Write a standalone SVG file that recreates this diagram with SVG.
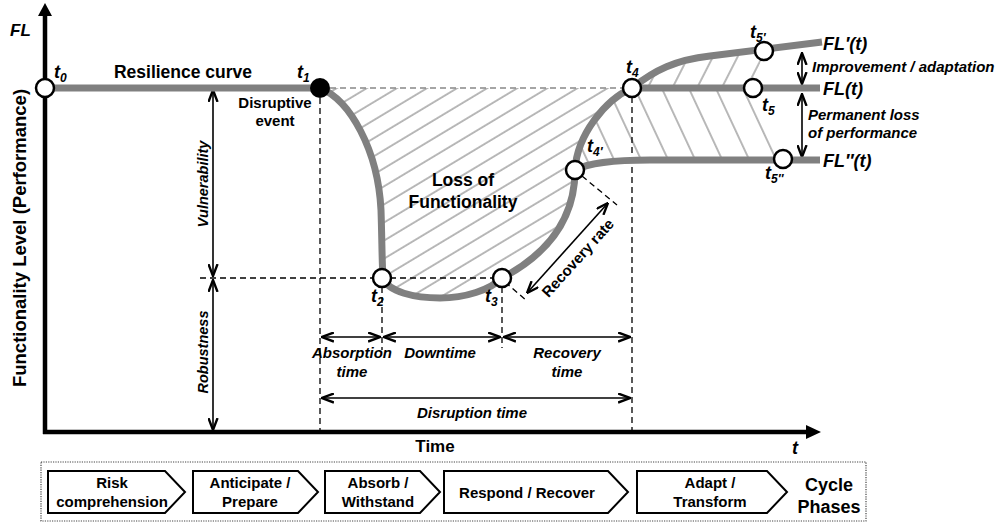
<svg xmlns="http://www.w3.org/2000/svg" width="1000" height="524" viewBox="0 0 1000 524">
<style>
text{font-family:"Liberation Sans",Arial,sans-serif;font-weight:bold;fill:#000}
.it{font-style:italic}
.curve{fill:none;stroke:#808080;stroke-width:7;stroke-linejoin:round}
.pt{fill:#fff;stroke:#000;stroke-width:2.5}
.dsh{fill:none;stroke:#000;stroke-width:1.3;stroke-dasharray:6,4}
.dshg{fill:none;stroke:#888;stroke-width:1.3;stroke-dasharray:6,4}
.dim{fill:none;stroke:#000;stroke-width:1.6;marker-start:url(#ah);marker-end:url(#ah)}
.box{fill:#fff;stroke:#000;stroke-width:2}
.hl{stroke:#8a8a8a;stroke-width:1.2}
</style>
<defs>
<marker id="ah" viewBox="0 0 12 10" refX="11.5" refY="5" markerWidth="13" markerHeight="11" markerUnits="userSpaceOnUse" orient="auto-start-reverse">
<path d="M0.5,0.8 L11.5,5 L0.5,9.2" fill="none" stroke="#000" stroke-width="2.2"/>
</marker>
<pattern id="h1" patternUnits="userSpaceOnUse" width="10" height="15.5" patternTransform="rotate(-31)">
<line x1="0" y1="1" x2="10" y2="1" class="hl"/>
</pattern>
<pattern id="h2" patternUnits="userSpaceOnUse" width="10" height="24.5" patternTransform="rotate(65)">
<line x1="0" y1="1" x2="10" y2="1" class="hl"/>
</pattern>
<pattern id="h3" patternUnits="userSpaceOnUse" width="10" height="22" patternTransform="rotate(-63)">
<line x1="0" y1="1" x2="10" y2="1" class="hl"/>
</pattern>
</defs>
<rect width="1000" height="524" fill="#fff"/>

<g id="hatching">
<path d="M320,88 C350,100 378,150 381,210 C382,240 382,265 383,278 C388,292 415,298 440,298 C465,298 490,290 502,278 C540,258 575,225 575,170 C577,135 605,100 632,88 Z" fill="url(#h1)"/>
<path d="M575,170 C577,135 605,100 632,88 L753,88 L783,160 L650,160 C620,160 590,162 575,170 Z" fill="url(#h2)"/>
<path d="M632,88 C655,70 675,60 710,56 L764,50 L753,88 Z" fill="url(#h3)"/>
</g>

<g id="connectors">
<line x1="330" y1="88" x2="624" y2="88" class="dshg"/>
<line x1="200" y1="278" x2="500" y2="278" class="dsh"/>
<line x1="320" y1="98" x2="320" y2="432" class="dsh"/>
<line x1="382" y1="287" x2="382" y2="350" class="dsh"/>
<line x1="502" y1="287" x2="502" y2="348" class="dsh"/>
<line x1="632" y1="97" x2="632" y2="432" class="dsh"/>
<line x1="505" y1="282" x2="527" y2="301" class="dsh"/>
<line x1="582" y1="176" x2="617" y2="205" class="dsh"/>
<line x1="322" y1="337" x2="380" y2="337" class="dim"/>
<line x1="384" y1="337" x2="500" y2="337" class="dim"/>
<line x1="504" y1="337" x2="630" y2="337" class="dim"/>
<line x1="322" y1="398" x2="630" y2="398" class="dim"/>
<line x1="213" y1="90" x2="213" y2="276" class="dim"/>
<line x1="213" y1="280" x2="213" y2="430" class="dim"/>
<line x1="527" y1="293" x2="608" y2="203" class="dim"/>
<line x1="802" y1="53" x2="802" y2="84" class="dim"/>
<line x1="802" y1="94" x2="802" y2="157" class="dim"/>
</g>

<g id="axes">
<line x1="45" y1="434" x2="45" y2="15" stroke="#000" stroke-width="4.5"/>
<path d="M38,16 L45,3 L52,16 Z" fill="#000"/>
<line x1="43" y1="432" x2="808" y2="432" stroke="#000" stroke-width="4.5"/>
<path d="M806,425 L821,432 L806,439 Z" fill="#000"/>
<text x="10" y="36" font-size="17" class="it">FL</text>
<text x="792" y="454" font-size="18" class="it">t</text>
<text x="435" y="452" font-size="17" text-anchor="middle">Time</text>
<text transform="translate(26,238) rotate(-90)" font-size="18.5" text-anchor="middle">Functionality Level (Performance)</text>
</g>

<g id="curves">
<path class="curve" d="M45,88 L320,88 C350,100 378,150 381,210 C382,240 382,265 383,278 C388,292 415,298 440,298 C465,298 490,290 502,278 C540,258 575,225 575,170 C577,135 605,100 632,88 C655,70 675,60 710,56 L822,42"/>
<path class="curve" d="M632,88 L820,88"/>
<path class="curve" d="M575,170 C590,162 620,160 650,160 L820,160"/>
</g>

<g id="t0"><circle cx="45" cy="88" r="9" class="pt"/><text x="54" y="78" font-size="18" class="it">t<tspan dy="4" font-size="12">0</tspan></text></g>
<g id="t1"><circle cx="320" cy="88" r="10" fill="#000"/><text x="297" y="78" font-size="18" class="it">t<tspan dy="4" font-size="12">1</tspan></text></g>
<g id="t2"><circle cx="382" cy="278" r="9" class="pt"/><text x="371" y="302" font-size="18" class="it">t<tspan dy="4" font-size="12">2</tspan></text></g>
<g id="t3"><circle cx="502" cy="278" r="9" class="pt"/><text x="485" y="302" font-size="18" class="it">t<tspan dy="4" font-size="12">3</tspan></text></g>
<g id="t4p"><circle cx="575" cy="170" r="9" class="pt"/><text x="587" y="152" font-size="18" class="it">t<tspan dy="4" font-size="12">4′</tspan></text></g>
<g id="t4"><circle cx="632" cy="88" r="9" class="pt"/><text x="626" y="73" font-size="18" class="it">t<tspan dy="4" font-size="12">4</tspan></text></g>
<g id="t5p"><circle cx="764" cy="51" r="9" class="pt"/><text x="750" y="38" font-size="18" class="it">t<tspan dy="4" font-size="12">5′</tspan></text></g>
<g id="t5"><circle cx="753" cy="88" r="9" class="pt"/><text x="762" y="111" font-size="18" class="it">t<tspan dy="4" font-size="12">5</tspan></text></g>
<g id="t5pp"><circle cx="783" cy="159" r="9" class="pt"/><text x="765" y="179" font-size="18" class="it">t<tspan dy="4" font-size="12">5″</tspan></text></g>

<g id="labels">
<text x="183" y="78" font-size="17.5" text-anchor="middle">Resilience curve</text>
<text x="275" y="108" font-size="15" text-anchor="middle">Disruptive</text>
<text x="275" y="126" font-size="15" text-anchor="middle">event</text>
<text x="463" y="186" font-size="17.5" text-anchor="middle">Loss of</text>
<text x="463" y="208" font-size="17.5" text-anchor="middle">Functionality</text>
<text transform="translate(208,184) rotate(-90)" font-size="14.5" text-anchor="middle" class="it">Vulnerability</text>
<text transform="translate(208,352) rotate(-90)" font-size="14.5" text-anchor="middle" class="it">Robustness</text>
<text x="352" y="358" font-size="15" text-anchor="middle" class="it">Absorption</text>
<text x="352" y="377" font-size="15" text-anchor="middle" class="it">time</text>
<text x="440" y="358" font-size="15" text-anchor="middle" class="it">Downtime</text>
<text x="567" y="358" font-size="15" text-anchor="middle" class="it">Recovery</text>
<text x="567" y="377" font-size="15" text-anchor="middle" class="it">time</text>
<text x="472" y="418" font-size="15" text-anchor="middle" class="it">Disruption time</text>
<text transform="translate(578,258) rotate(-48)" font-size="15" text-anchor="middle" dy="5">Recovery rate</text>
<text x="823" y="50" font-size="18" class="it">FL′(t)</text>
<text x="823" y="95" font-size="18" class="it">FL(t)</text>
<text x="823" y="167" font-size="18" class="it">FL″(t)</text>
<text x="812" y="72" font-size="15" class="it">Improvement / adaptation</text>
<text x="808" y="120" font-size="15" class="it">Permanent loss</text>
<text x="808" y="138" font-size="15" class="it">of performance</text>
</g>

<g id="phases">
<rect x="41" y="462" width="825" height="59" fill="none" stroke="#444" stroke-width="1.2" stroke-dasharray="1.2,1.2"/>
<g id="p1"><path class="box" d="M48,471 H165 L185,492 L165,513 H48 Z"/><text x="112" y="488" font-size="15" text-anchor="middle">Risk</text><text x="112" y="507" font-size="15" text-anchor="middle">comprehension</text></g>
<g id="p2"><path class="box" d="M193,471 H298 L318,492 L298,513 H193 Z"/><text x="250" y="488" font-size="15" text-anchor="middle">Anticipate /</text><text x="250" y="507" font-size="15" text-anchor="middle">Prepare</text></g>
<g id="p3"><path class="box" d="M325,471 H420 L440,492 L420,513 H325 Z"/><text x="378" y="488" font-size="15" text-anchor="middle">Absorb /</text><text x="378" y="507" font-size="15" text-anchor="middle">Withstand</text></g>
<g id="p4"><path class="box" d="M444,471 H608 L628,492 L608,513 H444 Z"/><text x="527" y="498" font-size="15" text-anchor="middle">Respond / Recover</text></g>
<g id="p5"><path class="box" d="M637,471 H767 L787,492 L767,513 H637 Z"/><text x="710" y="488" font-size="15" text-anchor="middle">Adapt /</text><text x="710" y="507" font-size="15" text-anchor="middle">Transform</text></g>
<text x="829" y="491" font-size="18" text-anchor="middle">Cycle</text>
<text x="829" y="513" font-size="18" text-anchor="middle">Phases</text>
</g>
</svg>
